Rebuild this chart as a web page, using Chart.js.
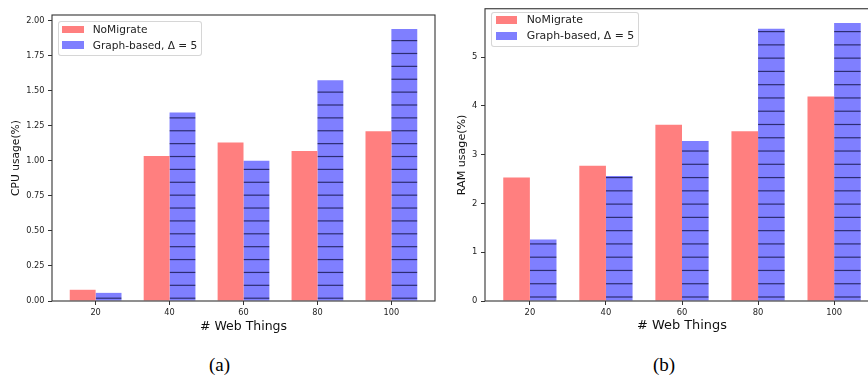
<!DOCTYPE html>
<html>
<head>
<meta charset="utf-8">
<script src="https://cdn.jsdelivr.net/npm/chart.js@4/dist/chart.umd.min.js"></script>
<style>
  html, body { margin: 0; padding: 0; background: #fff; }
  body { width: 868px; height: 379px; position: relative; overflow: hidden; font-family: "DejaVu Sans", sans-serif; }
  .panel { position: absolute; top: 0; height: 340px; overflow: hidden; }
  .panel canvas { position: absolute; left: 0; top: 0; }
  .legend { position: absolute; box-sizing: border-box; border: 1px solid rgba(204, 204, 204, 0.8); border-radius: 3px; background: rgba(255, 255, 255, 0.8); color: #222; }
  .legend span { position: absolute; white-space: nowrap; }
  .caption { position: absolute; font-family: "Liberation Serif", serif; font-size: 19px; transform: translate(-50%, -50%); color: #000; }
</style>
</head>
<body>
<div class="panel" style="left:0;width:440px;">
  <canvas id="chart-cpu" width="440" height="340"></canvas>
  <div class="legend" id="legend-cpu" style="left:58px;top:21px;width:144px;height:35px;"></div>
</div>
<div class="panel" style="left:440px;width:428px;">
  <canvas id="chart-ram" width="450" height="340"></canvas>
  <div class="legend" id="legend-ram" style="left:51px;top:11.7px;width:148px;height:35.3px;"></div>
</div>
<div class="caption" style="left:219.5px;top:365px;">(a)</div>
<div class="caption" style="left:664px;top:365px;">(b)</div>

<script>
const categories = ["20", "40", "60", "80", "100"];
const seriesLabels = ["NoMigrate", "Graph-based, \u0394 = 5"];
const cpuNoMigrate = [0.08, 1.035, 1.13, 1.07, 1.21];
const cpuGraph = [0.058, 1.345, 1.0, 1.575, 1.94];
const ramNoMigrate = [2.53, 2.77, 3.61, 3.48, 4.19];
const ramGraph = [1.26, 2.56, 3.28, 5.58, 5.70];

const RED = "rgb(255, 127, 127)";
const BLUE = "rgb(127, 127, 255)";
const HATCH = "rgba(0, 0, 40, 0.65)";

Chart.defaults.font.family = '"DejaVu Sans", sans-serif';
Chart.defaults.color = "#222";

// horizontal "-" hatch, tiled from the canvas origin like matplotlib does
function hatchFill(height, first, step) {
  const c = document.createElement("canvas");
  c.width = 8;
  c.height = height;
  const g = c.getContext("2d");
  g.fillStyle = BLUE;
  g.fillRect(0, 0, 8, height);
  g.fillStyle = HATCH;
  for (let y = first % step; y < height; y += step) g.fillRect(0, y, 8, 1.2);
  return g.createPattern(c, "repeat");
}

const frame = {
  id: "frame",
  afterDatasetsDraw(chart) {
    const { ctx, chartArea: a } = chart;
    ctx.save();
    ctx.strokeStyle = "#333";
    ctx.lineWidth = 1.1;
    ctx.strokeRect(a.left, a.top, a.right - a.left, a.bottom - a.top);
    ctx.restore();
  },
};

function points(values) {
  return values.map((v, i) => ({ x: i, y: v }));
}

function makeBarChart(id, cfg) {
  const ctx = document.getElementById(id).getContext("2d");
  const tickGrid = { display: true, drawOnChartArea: false, drawTicks: true, tickLength: 4, tickColor: "#333", offset: false };
  return new Chart(ctx, {
    type: "bar",
    data: {
      datasets: [
        { label: seriesLabels[0], data: points(cfg.red), backgroundColor: RED, borderWidth: 0 },
        { label: seriesLabels[1], data: points(cfg.blue), backgroundColor: cfg.hatch, borderWidth: 0 },
      ],
    },
    options: {
      responsive: false,
      animation: false,
      categoryPercentage: 0.7,
      barPercentage: 1.0,
      layout: { padding: cfg.padding },
      scales: {
        x: {
          type: "linear",
          offset: false,
          min: -0.59,
          max: 4.59,
          grid: tickGrid,
          border: { display: false },
          afterBuildTicks: (s) => { s.ticks = categories.map((c, i) => ({ value: i })); },
          afterFit: (s) => { s.height = 39; },
          ticks: {
            autoSkip: false,
            maxRotation: 0,
            padding: cfg.xTickPad,
            font: { size: cfg.tickSize },
            callback: (v) => categories[v],
          },
          title: {
            display: true,
            text: "# Web Things",
            color: "#111",
            font: { size: cfg.xTitleSize },
            padding: { top: 0, bottom: cfg.xTitlePad },
          },
        },
        y: {
          min: 0,
          max: cfg.yMax,
          grid: tickGrid,
          border: { display: false },
          afterFit: (s) => { s.width = cfg.yWidth; },
          ticks: {
            stepSize: cfg.yStep,
            includeBounds: false,
            padding: cfg.yTickPad,
            font: { size: cfg.tickSize },
            callback: cfg.yFormat,
          },
          title: {
            display: true,
            text: cfg.yTitle,
            color: "#111",
            font: { size: cfg.yTitleSize },
            padding: { top: cfg.yTitlePad, bottom: 0 },
          },
        },
      },
      plugins: { legend: { display: false }, tooltip: { enabled: false } },
    },
    plugins: [frame],
  });
}

function buildLegend(chart, id, lg) {
  const box = document.getElementById(id);
  chart.data.datasets.forEach((ds, i) => {
    const cy = lg.rows[i];
    const sw = document.createElement("span");
    sw.style.left = lg.swLeft + "px";
    sw.style.top = (cy - lg.swH / 2) + "px";
    sw.style.width = lg.swW + "px";
    sw.style.height = lg.swH + "px";
    sw.style.background = i === 0 ? RED : BLUE;
    box.appendChild(sw);
    const tx = document.createElement("span");
    tx.textContent = ds.label;
    tx.style.left = lg.textLeft + "px";
    tx.style.fontSize = lg.size + "px";
    tx.style.lineHeight = (lg.size * 1.2) + "px";
    tx.style.top = (cy - lg.size * 0.6) + "px";
    box.appendChild(tx);
  });
}

const cpuChart = makeBarChart("chart-cpu", {
  red: cpuNoMigrate,
  blue: cpuGraph,
  hatch: hatchFill(340, 40, 12.88),
  padding: { left: 0, right: 5, top: 15, bottom: 0 },
  yMax: 2.04,
  yStep: 0.25,
  yFormat: (v) => v.toFixed(2),
  yTitle: "CPU usage(%)",
  yWidth: 52,
  tickSize: 8.2,
  xTickPad: 3,
  yTickPad: 3.5,
  xTitleSize: 12.5,
  xTitlePad: 5.5,
  yTitleSize: 10.7,
  yTitlePad: 9.8,
});

const ramChart = makeBarChart("chart-ram", {
  red: ramNoMigrate,
  blue: ramGraph,
  hatch: hatchFill(340, 31, 13.27),
  padding: { left: 0, right: 11, top: 6, bottom: 0 },
  yMax: 5.99,
  yStep: 1,
  yFormat: (v) => String(v),
  yTitle: "RAM usage(%)",
  yWidth: 45,
  tickSize: 8.4,
  xTickPad: 2.7,
  yTickPad: 3.7,
  xTitleSize: 12.9,
  xTitlePad: 6.3,
  yTitleSize: 11.1,
  yTitlePad: 15,
});

buildLegend(cpuChart, "legend-cpu", { rows: [7.7, 23], swLeft: 3, swW: 22, swH: 7.3, textLeft: 33.7, size: 10.6 });
buildLegend(ramChart, "legend-ram", { rows: [7.3, 23.3], swLeft: 3.7, swW: 21.3, swH: 7.6, textLeft: 34.7, size: 10.9 });
</script>
</body>
</html>
